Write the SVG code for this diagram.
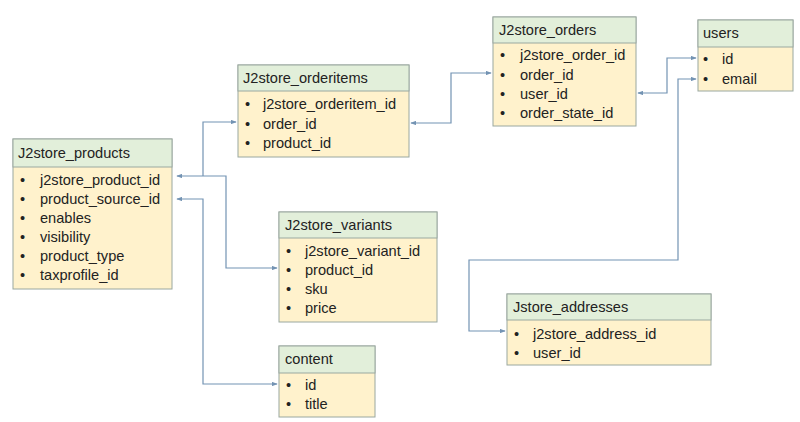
<svg xmlns="http://www.w3.org/2000/svg" width="800" height="422" viewBox="0 0 800 422">
<style>
.hd{fill:#e2efda;stroke:#9aa8a0;stroke-width:1}
.bd{fill:#fff2cc;stroke:#9aa8a0;stroke-width:1}
text{font-family:"Liberation Sans",Arial,sans-serif;font-size:14.6px;fill:#222}
.c{fill:none;stroke:#7393b3;stroke-width:1.2}
</style>
<defs>
<marker id="a" viewBox="0 0 8 6" refX="7" refY="3" markerWidth="6" markerHeight="4.5" orient="auto-start-reverse" markerUnits="userSpaceOnUse">
<path d="M0,0 L8,3 L0,6 z" fill="#7393b3"/>
</marker>
</defs>
<rect width="800" height="422" fill="#ffffff"/>
<g id="connectors">
<path class="c" d="M177,176 H226 V268 H277" marker-start="url(#a)" marker-end="url(#a)"/>
<path class="c" d="M203,176 V122 H236" marker-end="url(#a)"/>
<path class="c" d="M177,199 H203 V384 H277" marker-start="url(#a)" marker-end="url(#a)"/>
<path class="c" d="M411,123 H451 V73 H491" marker-start="url(#a)" marker-end="url(#a)"/>
<path class="c" d="M638,93 H667 V58 H696" marker-start="url(#a)" marker-end="url(#a)"/>
<path class="c" d="M696,79 H678 V260 H469 V331 H505" marker-start="url(#a)" marker-end="url(#a)"/>
</g>
<g id="products">
<rect class="bd" x="13" y="139" width="159" height="150"/>
<rect class="hd" x="13" y="139" width="159" height="28"/>
<text x="18" y="158">J2store_products</text>
<text x="20" y="185">•</text><text x="40" y="185">j2store_product_id</text>
<text x="20" y="204">•</text><text x="40" y="204">product_source_id</text>
<text x="20" y="223">•</text><text x="40" y="223">enables</text>
<text x="20" y="242">•</text><text x="40" y="242">visibility</text>
<text x="20" y="261">•</text><text x="40" y="261">product_type</text>
<text x="20" y="280">•</text><text x="40" y="280">taxprofile_id</text>
</g>
<g id="orderitems">
<rect class="bd" x="238" y="65" width="171" height="92"/>
<rect class="hd" x="238" y="65" width="171" height="26"/>
<text x="243" y="83">J2store_orderitems</text>
<text x="245" y="109">•</text><text x="263" y="109">j2store_orderitem_id</text>
<text x="245" y="129">•</text><text x="263" y="129">order_id</text>
<text x="245" y="148">•</text><text x="263" y="148">product_id</text>
</g>
<g id="orders">
<rect class="bd" x="493" y="17" width="143" height="109"/>
<rect class="hd" x="493" y="17" width="143" height="26"/>
<text x="499" y="35">J2store_orders</text>
<text x="500" y="60">•</text><text x="520" y="60">j2store_order_id</text>
<text x="500" y="80">•</text><text x="520" y="80">order_id</text>
<text x="500" y="99">•</text><text x="520" y="99">user_id</text>
<text x="500" y="118">•</text><text x="520" y="118">order_state_id</text>
</g>
<g id="users">
<rect class="bd" x="698" y="20" width="95" height="71"/>
<rect class="hd" x="698" y="20" width="95" height="27"/>
<text x="703" y="38">users</text>
<text x="703" y="64">•</text><text x="722" y="64">id</text>
<text x="703" y="84">•</text><text x="722" y="84">email</text>
</g>
<g id="variants">
<rect class="bd" x="279" y="212" width="158" height="110"/>
<rect class="hd" x="279" y="212" width="158" height="26"/>
<text x="285" y="230">J2store_variants</text>
<text x="286" y="256">•</text><text x="305" y="256">j2store_variant_id</text>
<text x="286" y="275">•</text><text x="305" y="275">product_id</text>
<text x="286" y="294">•</text><text x="305" y="294">sku</text>
<text x="286" y="313">•</text><text x="305" y="313">price</text>
</g>
<g id="content">
<rect class="bd" x="279" y="346" width="96" height="71"/>
<rect class="hd" x="279" y="346" width="96" height="27"/>
<text x="285" y="364">content</text>
<text x="286" y="390">•</text><text x="305" y="390">id</text>
<text x="286" y="409">•</text><text x="305" y="409">title</text>
</g>
<g id="addresses">
<rect class="bd" x="507" y="294" width="204" height="71"/>
<rect class="hd" x="507" y="294" width="204" height="26"/>
<text x="513" y="312">Jstore_addresses</text>
<text x="514" y="339">•</text><text x="533" y="339">j2store_address_id</text>
<text x="514" y="358">•</text><text x="533" y="358">user_id</text>
</g>
</svg>
